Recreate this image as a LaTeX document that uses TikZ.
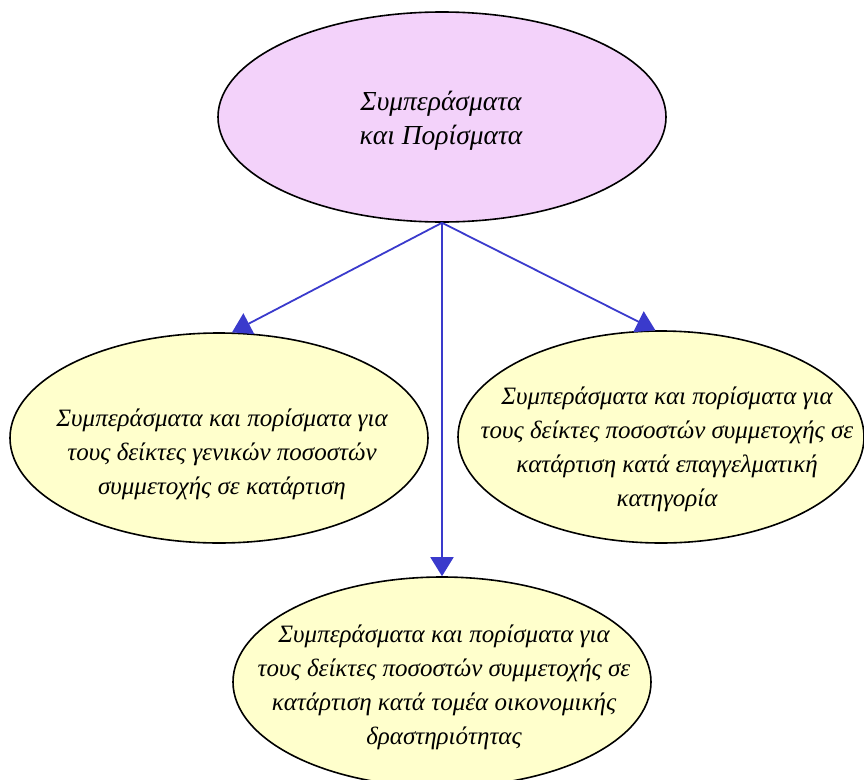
\documentclass[tikz,border=0pt]{standalone}
\usepackage{fontspec}
\setmainfont{Liberation Serif}
\usetikzlibrary{shapes.geometric,arrows.meta}
\definecolor{topfill}{HTML}{F3D2FA}
\definecolor{boxfill}{HTML}{FFFFCC}
\definecolor{linkblue}{HTML}{3A3ACC}
\tikzset{
  bubble/.style={ellipse, draw=black, line width=1.6pt, fill=boxfill, inner sep=0pt},
  txt/.style={align=center, inner sep=0pt, font=\fontsize{25}{34}\selectfont\itshape},
  link/.style={draw=linkblue, line width=1.8pt, -{Triangle[length=19pt,width=23pt]}}
}
\begin{document}
\begin{tikzpicture}[x=1pt,y=-1pt]
\useasboundingbox (0,0) rectangle (864,779);
\node[bubble, fill=topfill, minimum width=448pt, minimum height=210pt] (top) at (442,117) {};
\node[txt, font=\fontsize{27.5}{34}\selectfont\itshape] (toptxt) at (441,121) {Συμπεράσματα\\και Πορίσματα};
\node[bubble, minimum width=418pt, minimum height=210pt] (left) at (219,438) {};
\node[txt] (lefttxt) at (222,454) {Συμπεράσματα και πορίσματα για\\τους δείκτες γενικών ποσοστών\\συμμετοχής σε κατάρτιση};
\node[bubble, minimum width=406pt, minimum height=212pt] (right) at (661,437) {};
\node[txt] (righttxt) at (667,449) {Συμπεράσματα και πορίσματα για\\τους δείκτες ποσοστών συμμετοχής σε\\κατάρτιση κατά επαγγελματική\\κατηγορία};
\node[bubble, minimum width=418pt, minimum height=210pt] (bottom) at (442,682) {};
\node[txt] (bottomtxt) at (444,687) {Συμπεράσματα και πορίσματα για\\τους δείκτες ποσοστών συμμετοχής σε\\κατάρτιση κατά τομέα οικονομικής\\δραστηριότητας};
\draw[link] (top.south) -- (left.83);
\draw[link] (top.south) -- (right.93);
\draw[link] (top.south) -- (bottom.north);
\end{tikzpicture}
\end{document}
